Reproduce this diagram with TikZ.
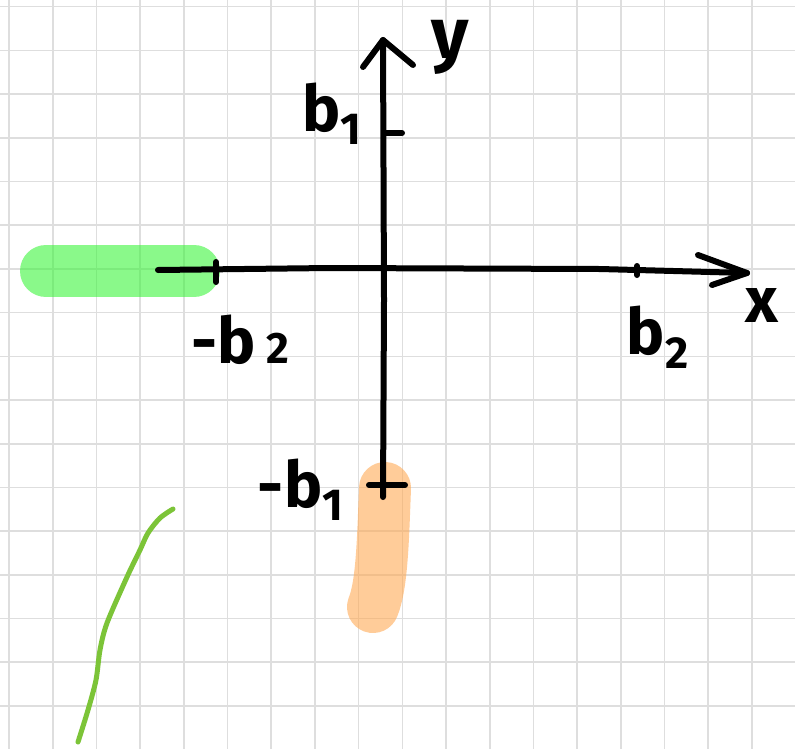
\documentclass[tikz,border=0pt]{standalone}
\usepackage{fontspec}
\setmainfont{Fira Sans}
\definecolor{hlgreen}{RGB}{60,245,60}
\definecolor{hlorange}{RGB}{255,170,85}
\definecolor{pengreen}{RGB}{124,196,56}
\tikzset{
  gridline/.style={draw=black!13,line width=0.8pt},
  pen/.style={draw=black,line width=3pt,line cap=round,line join=round},
  marker/.style={line width=26pt,line cap=round,line join=round,draw opacity=0.6},
  hand/.style={font=\fontsize{32}{36}\selectfont\bfseries,inner sep=0pt}
}
\begin{document}
\begin{tikzpicture}[x=0.5pt,y=-0.5pt]
\useasboundingbox (0,0) rectangle (795,749);
\fill[white] (0,0) rectangle (795,749);
% grid paper
\foreach \i in {0,...,17}
  \draw[gridline] ({9+43.7*\i},0) -- ({9+43.7*\i},749);
\foreach \i in {0,...,16}
  \draw[gridline] (0,{6.7+43.7*\i}) -- (795,{6.7+43.7*\i});

% highlights
\draw[marker,draw=hlgreen] (46,271) -- (194,271);
\draw[marker,draw=hlorange] (385,488) .. controls (383,540) and (382,585) .. (373,607);
\draw[pen,draw=pengreen,line width=2.5pt] plot[smooth] coordinates
  {(173,509) (160,518) (148,533) (140,550) (127,577) (107,623) (100,650) (96,680) (88,710) (78,742)};

% axes
\coordinate (xl) at (158,270);
\coordinate (xr) at (747,273);
\coordinate (yb) at (383,497);
\coordinate (yt) at (383,40);
\draw[pen] (xl) -- (330,268) -- (600,269) -- (xr);
\draw[pen] (yb) -- (384,300) -- (yt);
\draw[pen] (698,255) -- (xr) -- (712,285);
\draw[pen] (363,67) -- (yt) -- (413,65);

% ticks
\coordinate (tmb2) at (216,270);
\coordinate (tb2) at (637,270);
\coordinate (tb1) at (384,133);
\coordinate (tmb1) at (385,485);
\draw[pen] ([yshift=4pt]tmb2) -- ([yshift=-6pt]tmb2);
\draw[pen] ([yshift=2pt]tb2) -- ([yshift=-2.5pt]tb2);
\draw[pen] (tb1) -- ([xshift=9pt]tb1);
\draw[pen] ([xshift=-8pt]tmb1) -- ([xshift=10pt]tmb1);

% labels
\node[hand,font=\fontsize{36}{40}\selectfont\bfseries] (ly) at (450,47) {y};
\node[hand] (lx) at (762,306) {x};
\node[hand] (lb1) at (332,114) {b\textsubscript{1}};
\node[hand] (lb2) at (658,337) {b\textsubscript{2}};
\node[hand] (lmb2) at (240,340) {-b\,{\fontsize{22}{22}\selectfont 2}};
\node[hand] (lmb1) at (301,490) {-b\textsubscript{1}};
\end{tikzpicture}
\end{document}
